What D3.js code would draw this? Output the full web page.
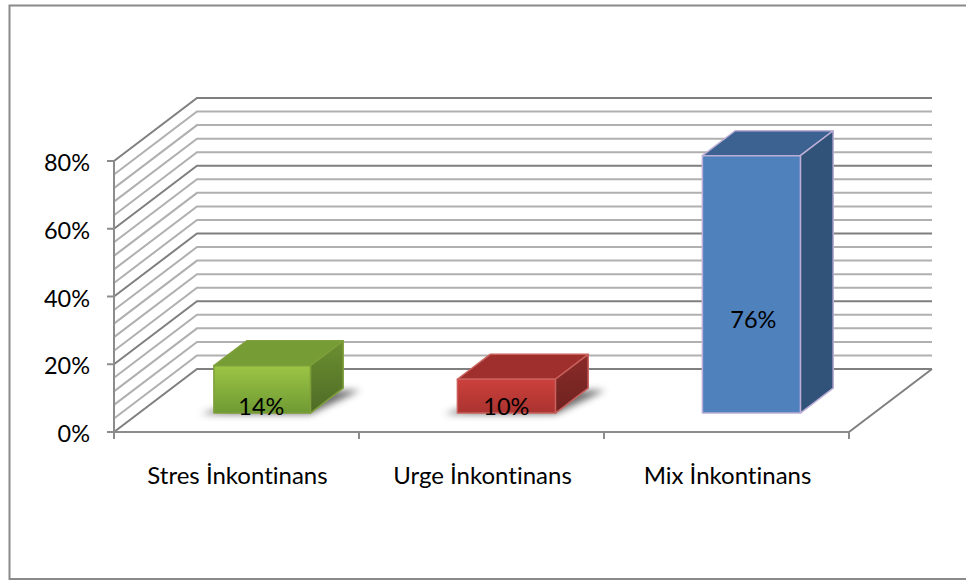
<!DOCTYPE html>
<html><head><meta charset="utf-8">
<style>html,body{margin:0;padding:0;background:#fff}svg{display:block}text{font-family:Lato,"Open Sans",sans-serif;fill:#000;font-variant-ligatures:none;font-kerning:normal}</style>
<script src="https://cdn.jsdelivr.net/npm/d3@7/dist/d3.min.js"></script>
</head><body>
<svg id="c" width="966" height="581"></svg>
<script>
// Survey shares by incontinence type
const categories = ["Stres İnkontinans", "Urge İnkontinans", "Mix İnkontinans"];
const shares = [14, 10, 76];
const shareLabels = ["14%", "10%", "76%"];
const majorTicks = [0, 20, 40, 60, 80];
const minorTicks = [4, 8, 12, 16, 24, 28, 32, 36, 44, 48, 52, 56, 64, 68, 72, 76];
const frontTop = ["#9cc545", "#cc403c", "#4f81bd"];
const frontBottom = ["#6f9a33", "#aa3330", "#4f81bd"];
const faceTop = ["#769c35", "#9e2f2c", "#3b6290"];
const sideTop = ["#6c8f31", "#8a2b28", "#325379"];
const sideBottom = ["#4f6b26", "#6e2220", "#325379"];
const outlines = ["#7f9f3a", "#c9605c", "#bcaed6"];

const svg = d3.select("#c");
const defs = svg.append("defs");
defs.append("filter").attr("id", "soft").attr("x", "-20%").attr("y", "-60%").attr("width", "140%").attr("height", "220%")
  .append("feGaussianBlur").attr("stdDeviation", 3.5);
defs.append("filter").attr("id", "lineSoft").attr("x", "-5%").attr("y", "-5%").attr("width", "110%").attr("height", "110%")
  .append("feGaussianBlur").attr("stdDeviation", 0.5);
const vGrad = (id, top, bottom) => {
  const g = defs.append("linearGradient").attr("id", id).attr("x1", 0).attr("x2", 0).attr("y1", 0).attr("y2", 1);
  g.append("stop").attr("offset", "0%").attr("stop-color", top);
  g.append("stop").attr("offset", "100%").attr("stop-color", bottom);
};
frontTop.forEach((c, i) => {
  vGrad("front" + i, c, frontBottom[i]);
  vGrad("side" + i, sideTop[i], sideBottom[i]);
});

// Scales: value to height, category to front edge, depth fraction to oblique offset
const y = d3.scaleLinear().domain([0, 80]).range([432, 161]);
const x = d3.scaleBand().domain(categories).range([114, 849]);
const depthX = d3.scaleLinear().domain([0, 1]).range([0, 83]);
const depthY = d3.scaleLinear().domain([0, 1]).range([0, -63]);
const pt = (px, py, d) => [px + depthX(d), py + depthY(d)];
const poly = pts => pts.map(p => p.join(",")).join(" ");

// Chart frame: it runs off the right side of the page, so only three edges show
svg.append("path").attr("d", "M966,5.5H9.5V579H966").attr("fill", "none")
  .attr("stroke", "#8a8a8a").attr("stroke-width", 2);

// Wall and side gridlines
const xL = x.range()[0], xR = x.range()[1];
const grid = svg.append("g").attr("fill", "none").attr("filter", "url(#lineSoft)");
const wallLine = (v, color) => grid.append("polyline")
  .attr("points", poly([pt(xL, y(v), 0), pt(xL, y(v), 1), pt(xR, y(v), 1)]))
  .attr("stroke", color).attr("stroke-width", 2);
minorTicks.forEach(v => wallLine(v, "#b0b0b0"));
majorTicks.forEach(v => wallLine(v, "#7f7f7f"));

// Floor edge on the right and front axis
grid.append("line").attr("x1", xR).attr("y1", y(0)).attr("x2", pt(xR, y(0), 1)[0]).attr("y2", pt(xR, y(0), 1)[1])
  .attr("stroke", "#7f7f7f").attr("stroke-width", 2);
const axes = svg.append("g").attr("stroke", "#8c8c8c").attr("stroke-width", 2);
axes.append("line").attr("x1", xL).attr("x2", xR).attr("y1", y(0)).attr("y2", y(0));
axes.append("line").attr("x1", xL).attr("x2", xL).attr("y1", y(80)).attr("y2", y(0));
majorTicks.forEach(v => axes.append("line").attr("x1", xL - 7).attr("x2", xL).attr("y1", y(v)).attr("y2", y(v)));
[...categories.map(c => x(c)), xR].forEach(px => axes.append("line").attr("x1", px).attr("x2", px).attr("y1", y(0)).attr("y2", y(0) + 7));

// Axis text
svg.append("g").selectAll("text").data(majorTicks).join("text")
  .attr("x", 90).attr("y", d => y(d) + 10).attr("text-anchor", "end").attr("font-size", 23.5).text(d => d + "%");
svg.append("g").selectAll("text").data(categories).join("text")
  .attr("x", d => x(d) + x.bandwidth() / 2 + 1).attr("y", 483.5).attr("text-anchor", "middle").attr("font-size", 24).text(d => d);

// Columns stand between these depth fractions on the floor
const dFront = 0.30, dBack = 0.695, barW = 98;
const bevelInset = [1.5, 0, 0];
const bars = svg.append("g");
categories.forEach((c, i) => {
  const cx = x(c) + x.bandwidth() / 2;
  const left = cx - barW / 2 + bevelInset[i], right = cx + barW / 2;
  const a = pt(left, y(0), dFront), b = pt(right, y(0), dFront);
  const at = pt(left, y(shares[i]), dFront), bt = pt(right, y(shares[i]), dFront);
  const cb = pt(right, y(0), dBack), ct = pt(right, y(shares[i]), dBack), dt = pt(left, y(shares[i]), dBack);
  const g = bars.append("g").attr("stroke-linejoin", "round");
  if (i < 2) {
    // Soft floor shadow behind the short columns
    g.append("polygon").attr("filter", "url(#soft)").attr("fill", "#4a4a4a").attr("opacity", 0.8)
      .attr("points", poly([[a[0] - 13, a[1] + 1], [b[0], b[1] + 1], [cb[0] + 17, cb[1] + 2], [b[0] + 10, b[1] - 22], [a[0], a[1] - 3]]));
  }
  g.append("polygon").attr("points", poly([at, bt, ct, dt])).attr("fill", faceTop[i]).attr("stroke", outlines[i]).attr("stroke-width", 1.5);
  g.append("polygon").attr("points", poly([b, bt, ct, cb])).attr("fill", `url(#side${i})`).attr("stroke", outlines[i]).attr("stroke-width", 1.5);
  g.append("polygon").attr("points", poly([a, b, bt, at])).attr("fill", `url(#front${i})`).attr("stroke", outlines[i]).attr("stroke-width", 1.5);
  g.append("text").attr("text-anchor", "middle").attr("font-size", 23.5)
    .attr("x", cx + depthX(dFront) + (i === 2 ? 2 : 0))
    .attr("y", i === 2 ? y(shares[i] / 2) + 25 : a[1] + 2)
    .text(shareLabels[i]);
});
</script>
</body></html>
